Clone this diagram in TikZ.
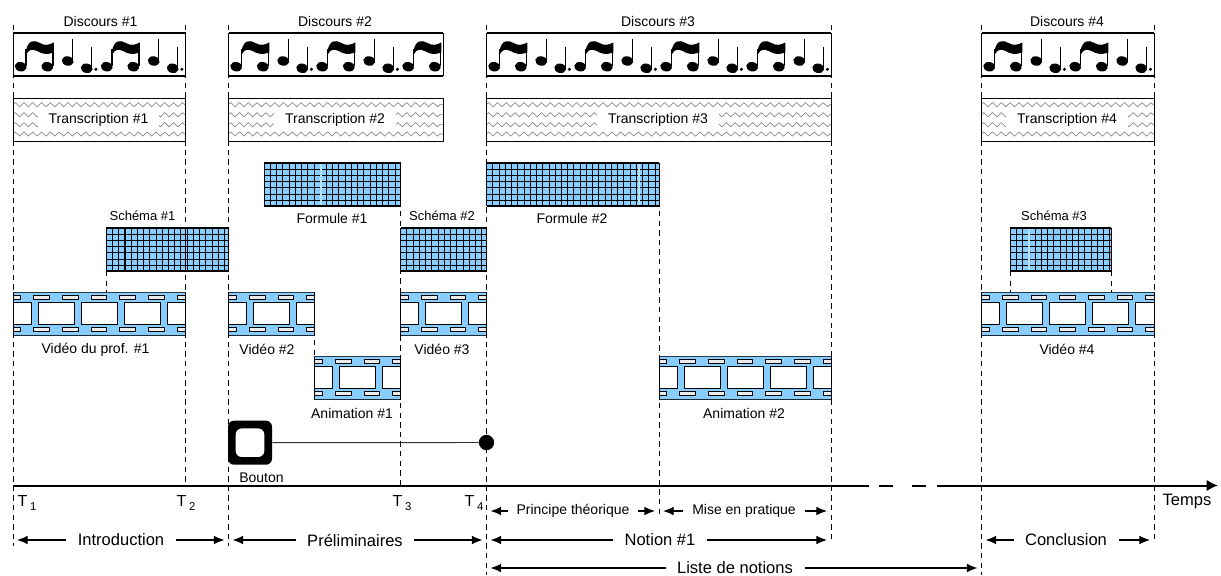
\documentclass[tikz,border=0pt]{standalone}
\usepackage{fontspec}
\setmainfont{Liberation Sans}
\usetikzlibrary{arrows.meta,decorations.pathmorphing}
\definecolor{filmblue}{RGB}{135,205,255}
\definecolor{holegray}{RGB}{235,235,235}
\newcommand{\subt}[1]{\,\raisebox{-3.5pt}{\fontsize{8.5}{9}\selectfont #1}}
% #1 left, #2 right, #3 top; all the strips are 43 high
\newcommand{\notebar}[3]{
    \begin{scope}
        \clip (#1,#3) rectangle (#2,#3+43);
        \foreach \k in {0,...,3} {
            \begin{scope}[shift={(#1+86*\k,#3)}]
                \fill (7.7,33.7) ellipse [x radius=6,y radius=4.7,rotate=-12];
                \fill (34.3,33.7) ellipse [x radius=6,y radius=4.7,rotate=-12];
                \fill (54.7,28) ellipse [x radius=6,y radius=4.7,rotate=-12];
                \fill (73.7,35.3) ellipse [x radius=6,y radius=4.7,rotate=-12];
                \fill (82.9,36.3) circle [radius=1.7];
                \draw[line width=1.1pt] (13,33) -- (13,16) (40.1,33) -- (40.1,12);
                \draw[line width=.9pt] (59.7,28) -- (59.7,6) (78.7,35) -- (78.7,13.7);
                \fill (13,18) .. controls (15,7) and (21,6.5) .. (27,10)
                    .. controls (32,13) and (36,12) .. (40.8,9.5) -- (40.8,19.5)
                    .. controls (34,22) and (29,21) .. (24,18)
                    .. controls (20,16) and (16,16) .. (13.5,21) -- cycle;
            \end{scope}
        }
    \end{scope}
    \draw[line width=.7pt] (#1,#3) -- (#1,#3+43) (#2,#3) -- (#2,#3+43);
    \draw[line width=1.5pt] (#1,#3) -- (#2,#3) (#1,#3+43) -- (#2,#3+43);
}
\newcommand{\zigbar}[3]{
    \fill[white] (#1,#3) rectangle (#2,#3+43);
    \begin{scope}
        \clip (#1,#3) rectangle (#2,#3+43);
        \foreach \r in {6.7,16.7,26.7,36} {
            \draw[zig] (#1,#3+\r) -- (#2,#3+\r);
        }
    \end{scope}
    \draw[line width=.65pt] (#1,#3) rectangle (#2,#3+43);
}
\newcommand{\gridbar}[3]{
    \fill[filmblue] (#1,#3) rectangle (#2,#3+43);
    \begin{scope}
        \clip (#1,#3) rectangle (#2,#3+43);
        \foreach \k in {0,...,30} {
            \draw[line width=.6pt] (#1+6.24*\k,#3) -- (#1+6.24*\k,#3+43);
        }
        \foreach \k in {1,...,6} {
            \draw[line width=.6pt] (#1,#3+6.2*\k) -- (#2,#3+6.2*\k);
        }
    \end{scope}
    \draw[line width=.6pt] (#1,#3) -- (#1,#3+43) (#2,#3) -- (#2,#3+43);
    \draw[line width=1.2pt] (#1,#3) -- (#2,#3) (#1,#3+43) -- (#2,#3+43);
}
\newcommand{\filmbar}[3]{
    \fill[filmblue] (#1,#3) rectangle (#2,#3+43.5);
    \begin{scope}
        \clip (#1,#3) rectangle (#2,#3+43.5);
        \foreach \k in {0,...,4} {
            \draw[frm] (#1-18+43*\k,#3+10.7) rectangle (#1+18+43*\k,#3+32.7);
        }
        \foreach \k in {0,...,6} {
            \draw[frm,fill=holegray] (#1-7.8+28.67*\k,#3+3.5) rectangle (#1+7.8+28.67*\k,#3+7.5);
            \draw[frm,fill=holegray] (#1-7.8+28.67*\k,#3+35.5) rectangle (#1+7.8+28.67*\k,#3+39.5);
        }
    \end{scope}
    \draw[line width=.6pt,black!70!filmblue] (#1,#3) -- (#2,#3);
    \draw[line width=.8pt,black!80!filmblue] (#1,#3+43.5) -- (#2,#3+43.5);
    \draw[line width=.6pt] (#1,#3) -- (#1,#3+43.5) (#2,#3) -- (#2,#3+43.5);
}
\begin{document}
\begin{tikzpicture}[
        x=.75pt,y=-.75pt,
        >={Latex[length=8pt,width=6.5pt]},line join=round,
        guide/.style={line width=.6pt,dash pattern=on 4pt off 3.2pt},
        zig/.style={black!55,line width=.4pt,decorate,decoration={zigzag,segment length=6.6pt,amplitude=1.6pt}},
        frm/.style={line width=.7pt,fill=white},
        lab/.style={font=\fontsize{10.5}{12}\selectfont,inner sep=0pt},
        smalllab/.style={font=\fontsize{9.75}{12}\selectfont,inner sep=0pt},
        biglab/.style={font=\fontsize{12.4}{14}\selectfont,inner ysep=0pt,inner xsep=8.5pt},
        dimlab/.style={font=\fontsize{10.5}{12}\selectfont,inner ysep=0pt,inner xsep=6.5pt},
        ziplab/.style={lab,fill=white,inner xsep=8pt,minimum height=15pt},
        dimline/.style={->,line width=.8pt,shorten >=3pt}
    ]
    \useasboundingbox (0,0) rectangle (1221,575);
    \fill[white] (0,0) rectangle (1221,575);

    \foreach \x/\ya/\yb in {13/25/546, 185.5/25/485, 228.5/25/546, 486.5/25/575, 831/25/543,
        981.5/25/575, 1154/25/543, 400.5/163/485, 659/163/515, 106/271/292, 1010/271/292,
        1111/271/292, 314.5/292/400} {
        \draw[guide] (\x,\ya) -- (\x,\yb);
    }

    % top strips
    \notebar{13}{185.5}{33}
    \notebar{228.5}{443}{33}
    \notebar{486.5}{831}{33}
    \notebar{981.5}{1154}{33}
    \zigbar{13}{185.5}{98}
    \zigbar{228.5}{443}{98}
    \zigbar{486.5}{831}{98}
    \zigbar{981.5}{1154}{98}
    \node[lab] (disca) at (100.5,21.5) {Discours \#1};
    \node[lab] (discb) at (335,21.5) {Discours \#2};
    \node[lab] (discc) at (658,21.5) {Discours \#3};
    \node[lab] (discd) at (1067,21.5) {Discours \#4};
    \node[ziplab] (transa) at (98.5,119.5) {Transcription \#1};
    \node[ziplab] (transb) at (335,119.5) {Transcription \#2};
    \node[ziplab] (transc) at (658,119.5) {Transcription \#3};
    \node[ziplab] (transd) at (1067,119.5) {Transcription \#4};

    % grids
    \gridbar{264}{400.5}{163}
    \gridbar{486.5}{659}{163}
    \gridbar{106}{228.5}{228}
    \gridbar{400.5}{486.5}{228}
    \gridbar{1010}{1111}{228}
    \draw[line width=.9pt,filmblue!60!white] (321,164) -- (321,205) (639,164) -- (639,205) (1029,229) -- (1029,270);
    \draw[line width=.7pt] (524,164) -- (524,205) (561.4,164) -- (561.4,205) (598.9,164) -- (598.9,205)
        (125,229) -- (125,270) (185.5,229) -- (185.5,270);
    \node[lab] (forma) at (332,218.5) {Formule \#1};
    \node[lab] (formb) at (572,218.5) {Formule \#2};
    \node[smalllab] (schemaa) at (142.5,215.5) {Schéma \#1};
    \node[smalllab] (schemab) at (442,215.5) {Schéma \#2};
    \node[smalllab] (schemac) at (1054,215.5) {Schéma \#3};

    % films
    \filmbar{13}{185.5}{292}
    \filmbar{228.5}{314.5}{292}
    \filmbar{400.5}{486.5}{292}
    \filmbar{981.5}{1154}{292}
    \filmbar{314.5}{400.5}{356}
    \filmbar{659}{831}{356}
    \node[lab] (vida) at (95.5,349.5) {Vidéo du prof. \#1};
    \node[lab] (vidb) at (267,349.5) {Vidéo \#2};
    \node[lab] (vidc) at (442,349.5) {Vidéo \#3};
    \node[lab] (vidd) at (1067,349.5) {Vidéo \#4};
    \node[lab] (anima) at (352,413) {Animation \#1};
    \node[lab] (animb) at (744,413) {Animation \#2};

    % button
    \node[fill,rounded corners=4.5pt,minimum size=33pt,inner sep=0pt] (btn) at (250,442.7) {};
    \node[fill=white,rounded corners=4.5pt,minimum size=21.4pt,inner sep=0pt] (btnhole) at (btn) {};
    \node[circle,fill,inner sep=0pt,minimum size=11.5pt] (hit) at (486.5,442.5) {};
    \draw[line width=.7pt,black!80] (btn) -- (hit);
    \node[lab] (btnlab) at (261.5,477.5) {Bouton};

    % time axis
    \coordinate (xa) at (13,485.5);
    \coordinate (xb) at (185.5,485.5);
    \coordinate (xc) at (228.5,485.5);
    \coordinate (xd) at (400.5,485.5);
    \coordinate (xe) at (486.5,485.5);
    \coordinate (xf) at (659,485.5);
    \coordinate (xg) at (831,485.5);
    \coordinate (xh) at (981.5,485.5);
    \coordinate (xi) at (1154,485.5);
    \coordinate (axcut) at (869,485.5);
    \coordinate (axback) at (937,485.5);
    \coordinate (axend) at (1218,485.5);
    \draw[line width=1.5pt] (xa) -- (axcut);
    \draw[line width=1.5pt,dash pattern=on 10.5pt off 14pt,dash phase=-7.5pt] (axcut) -- (axback);
    \draw[line width=1.5pt,-{Latex[length=8.5pt,width=8.5pt]}] (axback) -- (axend);
    \node[biglab,inner xsep=0pt] (tempslab) at (1187,502) {Temps};
    \node[biglab,inner xsep=0pt,font=\fontsize{12}{14}\selectfont] (ta) at (27,503) {T\subt{1}};
    \node[biglab,inner xsep=0pt,font=\fontsize{12}{14}\selectfont] (tb) at (186,503) {T\subt{2}};
    \node[biglab,inner xsep=0pt,font=\fontsize{12}{14}\selectfont] (tc) at (402,503) {T\subt{3}};
    \node[biglab,inner xsep=0pt,font=\fontsize{12}{14}\selectfont] (td) at (474,503) {T\subt{4}};

    % spans
    \node[biglab] (intro) at (121,540) {Introduction};
    \node[biglab] (prelim) at (355,540) {Préliminaires};
    \node[biglab] (notion) at (660,540) {Notion \#1};
    \node[biglab] (concl) at (1066,540) {Conclusion};
    \node[biglab] (liste) at (735,568) {Liste de notions};
    \node[dimlab] (princ) at (573,511) {Principe théorique};
    \node[dimlab] (mise) at (744,511) {Mise en pratique};
    \draw[dimline] (intro.west) -- (xa |- intro);
    \draw[dimline] (intro.east) -- (xc |- intro);
    \draw[dimline] (prelim.west) -- (xc |- prelim);
    \draw[dimline] (prelim.east) -- (xe |- prelim);
    \draw[dimline] (notion.west) -- (xe |- notion);
    \draw[dimline] (notion.east) -- (xg |- notion);
    \draw[dimline] (concl.west) -- (xh |- concl);
    \draw[dimline] (concl.east) -- (xi |- concl);
    \draw[dimline] (liste.west) -- (xe |- liste);
    \draw[dimline] (liste.east) -- (xh |- liste);
    \draw[dimline] (princ.west) -- (xe |- princ);
    \draw[dimline] (princ.east) -- (xf |- princ);
    \draw[dimline] (mise.west) -- (xf |- mise);
    \draw[dimline] (mise.east) -- (xg |- mise);
\end{tikzpicture}
\end{document}
